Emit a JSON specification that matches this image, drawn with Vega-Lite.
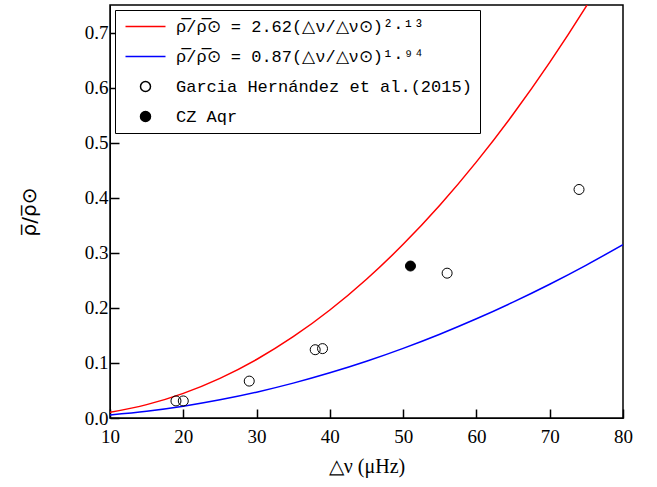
{
  "$schema": "https://vega.github.io/schema/vega-lite/v6.json",
  "width": 513,
  "height": 413,
  "padding": {"left": 19, "top": 5, "right": 5, "bottom": 5},
  "config": {
    "view": {"stroke": "black", "strokeWidth": 1.5},
    "axis": {
      "grid": false,
      "domainColor": "black",
      "tickColor": "black",
      "labelColor": "black",
      "titleColor": "black",
      "labelFont": "Liberation Serif",
      "titleFont": "Liberation Serif",
      "labelFontSize": 19,
      "titleFontSize": 20,
      "titleFontWeight": "normal",
      "labelFlush": false,
      "tickWidth": 1.5
    }
  },
  "layer": [
    {
      "data": {
        "values": [
          {"dnu": 10, "rho": 0.01023, "series": "ρ̅/ρ̅⊙ = 2.62(△ν/△ν⊙)²·¹³"},
          {"dnu": 15, "rho": 0.02427, "series": "ρ̅/ρ̅⊙ = 2.62(△ν/△ν⊙)²·¹³"},
          {"dnu": 20, "rho": 0.04478, "series": "ρ̅/ρ̅⊙ = 2.62(△ν/△ν⊙)²·¹³"},
          {"dnu": 25, "rho": 0.07206, "series": "ρ̅/ρ̅⊙ = 2.62(△ν/△ν⊙)²·¹³"},
          {"dnu": 30, "rho": 0.10623, "series": "ρ̅/ρ̅⊙ = 2.62(△ν/△ν⊙)²·¹³"},
          {"dnu": 35, "rho": 0.14756, "series": "ρ̅/ρ̅⊙ = 2.62(△ν/△ν⊙)²·¹³"},
          {"dnu": 40, "rho": 0.19609, "series": "ρ̅/ρ̅⊙ = 2.62(△ν/△ν⊙)²·¹³"},
          {"dnu": 45, "rho": 0.25197, "series": "ρ̅/ρ̅⊙ = 2.62(△ν/△ν⊙)²·¹³"},
          {"dnu": 50, "rho": 0.31537, "series": "ρ̅/ρ̅⊙ = 2.62(△ν/△ν⊙)²·¹³"},
          {"dnu": 55, "rho": 0.38635, "series": "ρ̅/ρ̅⊙ = 2.62(△ν/△ν⊙)²·¹³"},
          {"dnu": 60, "rho": 0.46510, "series": "ρ̅/ρ̅⊙ = 2.62(△ν/△ν⊙)²·¹³"},
          {"dnu": 65, "rho": 0.55151, "series": "ρ̅/ρ̅⊙ = 2.62(△ν/△ν⊙)²·¹³"},
          {"dnu": 70, "rho": 0.64578, "series": "ρ̅/ρ̅⊙ = 2.62(△ν/△ν⊙)²·¹³"},
          {"dnu": 75, "rho": 0.74800, "series": "ρ̅/ρ̅⊙ = 2.62(△ν/△ν⊙)²·¹³"},
          {"dnu": 77.5, "rho": 0.80211, "series": "ρ̅/ρ̅⊙ = 2.62(△ν/△ν⊙)²·¹³"},
          {"dnu": 80, "rho": 0.85818, "series": "ρ̅/ρ̅⊙ = 2.62(△ν/△ν⊙)²·¹³"},
          {"dnu": 10, "rho": 0.005573, "series": "ρ̅/ρ̅⊙ = 0.87(△ν/△ν⊙)¹·⁹⁴"},
          {"dnu": 15, "rho": 0.012234, "series": "ρ̅/ρ̅⊙ = 0.87(△ν/△ν⊙)¹·⁹⁴"},
          {"dnu": 20, "rho": 0.021379, "series": "ρ̅/ρ̅⊙ = 0.87(△ν/△ν⊙)¹·⁹⁴"},
          {"dnu": 25, "rho": 0.03296, "series": "ρ̅/ρ̅⊙ = 0.87(△ν/△ν⊙)¹·⁹⁴"},
          {"dnu": 30, "rho": 0.046954, "series": "ρ̅/ρ̅⊙ = 0.87(△ν/△ν⊙)¹·⁹⁴"},
          {"dnu": 35, "rho": 0.063311, "series": "ρ̅/ρ̅⊙ = 0.87(△ν/△ν⊙)¹·⁹⁴"},
          {"dnu": 40, "rho": 0.082074, "series": "ρ̅/ρ̅⊙ = 0.87(△ν/△ν⊙)¹·⁹⁴"},
          {"dnu": 45, "rho": 0.10310, "series": "ρ̅/ρ̅⊙ = 0.87(△ν/△ν⊙)¹·⁹⁴"},
          {"dnu": 50, "rho": 0.12651, "series": "ρ̅/ρ̅⊙ = 0.87(△ν/△ν⊙)¹·⁹⁴"},
          {"dnu": 55, "rho": 0.15219, "series": "ρ̅/ρ̅⊙ = 0.87(△ν/△ν⊙)¹·⁹⁴"},
          {"dnu": 60, "rho": 0.18016, "series": "ρ̅/ρ̅⊙ = 0.87(△ν/△ν⊙)¹·⁹⁴"},
          {"dnu": 65, "rho": 0.21044, "series": "ρ̅/ρ̅⊙ = 0.87(△ν/△ν⊙)¹·⁹⁴"},
          {"dnu": 70, "rho": 0.24296, "series": "ρ̅/ρ̅⊙ = 0.87(△ν/△ν⊙)¹·⁹⁴"},
          {"dnu": 75, "rho": 0.27777, "series": "ρ̅/ρ̅⊙ = 0.87(△ν/△ν⊙)¹·⁹⁴"},
          {"dnu": 80, "rho": 0.31480, "series": "ρ̅/ρ̅⊙ = 0.87(△ν/△ν⊙)¹·⁹⁴"}
        ]
      },
      "mark": {"type": "line", "clip": true, "strokeWidth": 1.5, "interpolate": "monotone"},
      "encoding": {
        "x": {
          "field": "dnu", "type": "quantitative",
          "scale": {"domain": [10, 80], "nice": false},
          "axis": {
            "title": "△ν (μHz)",
            "values": [10, 15, 20, 25, 30, 35, 40, 45, 50, 55, 60, 65, 70, 75, 80],
            "labelExpr": "datum.value % 10 === 0 ? datum.label : ''",
            "format": "d",
            "tickSize": {"condition": {"test": "datum.value % 10 === 0", "value": -9}, "value": -6},
            "labelPadding": 18,
            "titlePadding": 10
          }
        },
        "y": {
          "field": "rho", "type": "quantitative",
          "scale": {"domain": [0, 0.75], "nice": false},
          "axis": {
            "title": "ρ̅/ρ̅⊙",
            "titleFont": "DejaVu Sans",
            "values": [0, 0.05, 0.1, 0.15, 0.2, 0.25, 0.3, 0.35, 0.4, 0.45, 0.5, 0.55, 0.6, 0.65, 0.7, 0.75],
            "labelExpr": "abs(datum.value * 10 - round(datum.value * 10)) < 0.001 ? datum.label : ''",
            "format": ".1f",
            "tickSize": {"condition": {"test": "abs(datum.value * 10 - round(datum.value * 10)) < 0.001", "value": -9}, "value": -6},
            "labelAlign": "right",
            "labelPadding": 11,
            "titlePadding": 45
          }
        },
        "stroke": {
          "field": "series", "type": "nominal",
          "scale": {
            "domain": ["ρ̅/ρ̅⊙ = 2.62(△ν/△ν⊙)²·¹³", "ρ̅/ρ̅⊙ = 0.87(△ν/△ν⊙)¹·⁹⁴", "Garcia Hernández et al.(2015)", "CZ Aqr"],
            "range": ["#ff0000", "#0000ff", "black", "black"]
          },
          "legend": {
            "title": null,
            "orient": "top-left",
            "offset": 5,
            "padding": 8,
            "strokeColor": "black",
            "fillColor": "white",
            "labelFont": "Liberation Mono",
            "labelFontSize": 17,
            "labelColor": "black",
            "labelLimit": 400,
            "rowPadding": 12,
            "symbolOffset": 14,
            "labelOffset": 22,
            "symbolSize": 100,
            "symbolStrokeWidth": 1.5
          }
        }
      }
    },
    {
      "data": {
        "values": [
          {"dnu": 19, "rho": 0.031, "series": "Garcia Hernández et al.(2015)"},
          {"dnu": 20, "rho": 0.031, "series": "Garcia Hernández et al.(2015)"},
          {"dnu": 29, "rho": 0.067, "series": "Garcia Hernández et al.(2015)"},
          {"dnu": 38, "rho": 0.124, "series": "Garcia Hernández et al.(2015)"},
          {"dnu": 39, "rho": 0.126, "series": "Garcia Hernández et al.(2015)"},
          {"dnu": 56, "rho": 0.263, "series": "Garcia Hernández et al.(2015)"},
          {"dnu": 74, "rho": 0.415, "series": "Garcia Hernández et al.(2015)"},
          {"dnu": 51, "rho": 0.276, "series": "CZ Aqr"}
        ]
      },
      "mark": {"type": "point", "strokeWidth": 1, "opacity": 1, "size": 100},
      "encoding": {
        "x": {"field": "dnu", "type": "quantitative"},
        "y": {"field": "rho", "type": "quantitative"},
        "stroke": {"field": "series", "type": "nominal"},
        "fill": {
          "field": "series", "type": "nominal",
          "scale": {
            "domain": ["ρ̅/ρ̅⊙ = 2.62(△ν/△ν⊙)²·¹³", "ρ̅/ρ̅⊙ = 0.87(△ν/△ν⊙)¹·⁹⁴", "Garcia Hernández et al.(2015)", "CZ Aqr"],
            "range": ["transparent", "transparent", "transparent", "black"]
          }
        },
        "shape": {
          "field": "series", "type": "nominal",
          "scale": {
            "domain": ["ρ̅/ρ̅⊙ = 2.62(△ν/△ν⊙)²·¹³", "ρ̅/ρ̅⊙ = 0.87(△ν/△ν⊙)¹·⁹⁴", "Garcia Hernández et al.(2015)", "CZ Aqr"],
            "range": ["M-4,0H4", "M-4,0H4", "circle", "circle"]
          }
        }
      }
    }
  ]
}
